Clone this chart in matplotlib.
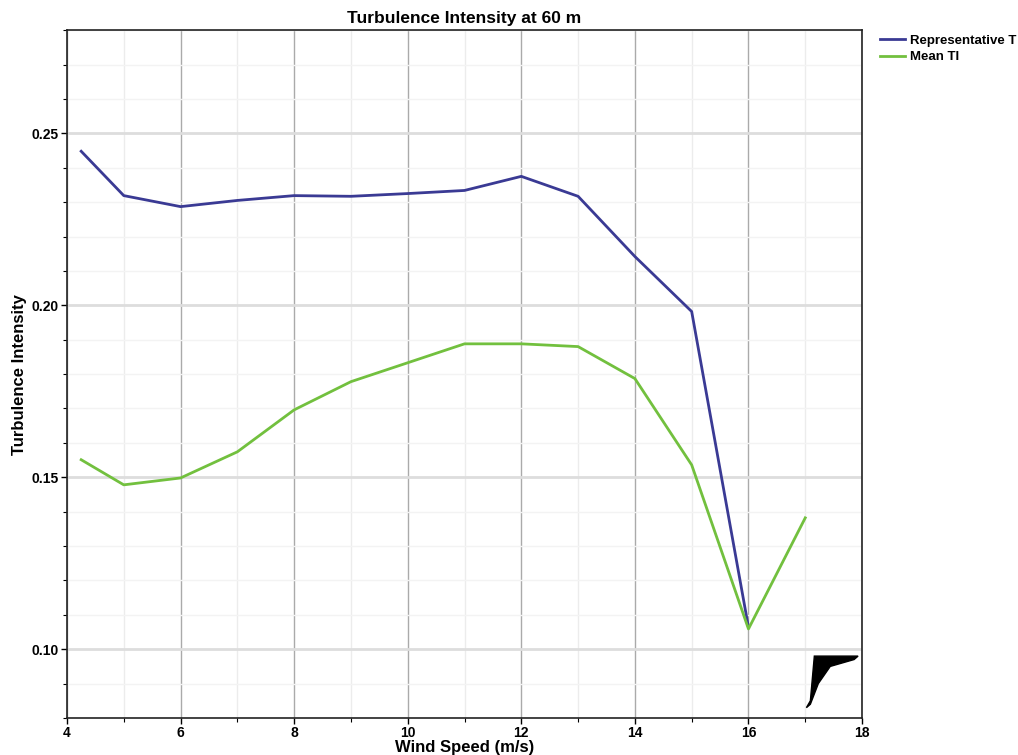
import matplotlib
matplotlib.use("Agg")
import matplotlib.pyplot as plt
from matplotlib.ticker import MultipleLocator

plt.rcParams['font.family'] = ['Liberation Sans', 'DejaVu Sans']

wind_speed_rep = [4.25, 5, 6, 7, 8, 9, 10, 11, 12, 13, 14, 15, 16]
rep_ti = [0.2448, 0.2319, 0.2287, 0.2305, 0.2319, 0.2317, 0.2325, 0.2334,
          0.2375, 0.2317, 0.2142, 0.1982, 0.1064]
wind_speed_mean = [4.25, 5, 6, 7, 8, 9, 10, 11, 12, 13, 14, 15, 16, 17]
mean_ti = [0.1551, 0.1478, 0.1498, 0.1574, 0.1696, 0.1778, 0.1833, 0.1888,
           0.1888, 0.1880, 0.1787, 0.1536, 0.1059, 0.1382]
series_labels = ["Representative T", "Mean TI"]

fig = plt.figure(figsize=(10.18, 7.55), dpi=100)
ax = fig.add_axes([0.0658, 0.049, 0.781, 0.911])

ax.plot(wind_speed_rep, rep_ti, color="#3a3a94", lw=2, label=series_labels[0], zorder=3)
ax.plot(wind_speed_mean, mean_ti, color="#72c03e", lw=2, label=series_labels[1], zorder=4)

ax.set_xlim(4, 18)
ax.set_ylim(0.08, 0.28)
ax.xaxis.set_major_locator(MultipleLocator(2))
ax.xaxis.set_minor_locator(MultipleLocator(1))
ax.yaxis.set_major_locator(MultipleLocator(0.05))
ax.yaxis.set_minor_locator(MultipleLocator(0.01))

ax.grid(which='major', axis='x', color='#aaaaaa', lw=1)
ax.grid(which='minor', axis='x', color='#ececec', lw=1)
ax.grid(which='major', axis='y', color='#dddddd', lw=2)
ax.grid(which='minor', axis='y', color='#f3f3f3', lw=1)
ax.set_axisbelow(True)

for s in ax.spines.values():
    s.set_color('#222222')
    s.set_linewidth(1.2)

ax.tick_params(which='major', length=4, width=1, labelsize=10, pad=2)
ax.tick_params(which='minor', length=3, width=0.8)
for lbl in ax.get_xticklabels() + ax.get_yticklabels():
    lbl.set_fontweight('bold')

ax.set_title("Turbulence Intensity at 60 m", fontsize=12.5, fontweight='bold', pad=5)
ax.set_xlabel("Wind Speed (m/s)", fontsize=12, fontweight='bold', labelpad=0)
ax.set_ylabel("Turbulence Intensity", fontsize=12, fontweight='bold', labelpad=3)

leg = fig.legend(loc='upper left', bbox_to_anchor=(0.862, 0.958), frameon=False,
                 fontsize=9.5, handlelength=1.9, handletextpad=0.35, labelspacing=0.35,
                 borderaxespad=0, borderpad=0.2)
for t in leg.get_texts():
    t.set_fontweight('bold')

# small black logo artifact in lower right corner (axes coords)
logo_x = [0.935, 0.94, 0.995, 0.99, 0.96, 0.945, 0.935, 0.93]
logo_y = [0.025, 0.09, 0.09, 0.085, 0.075, 0.05, 0.02, 0.015]
ax.fill(logo_x, logo_y, color='black', transform=ax.transAxes, zorder=5)

fig.savefig("out.png", dpi=100)
